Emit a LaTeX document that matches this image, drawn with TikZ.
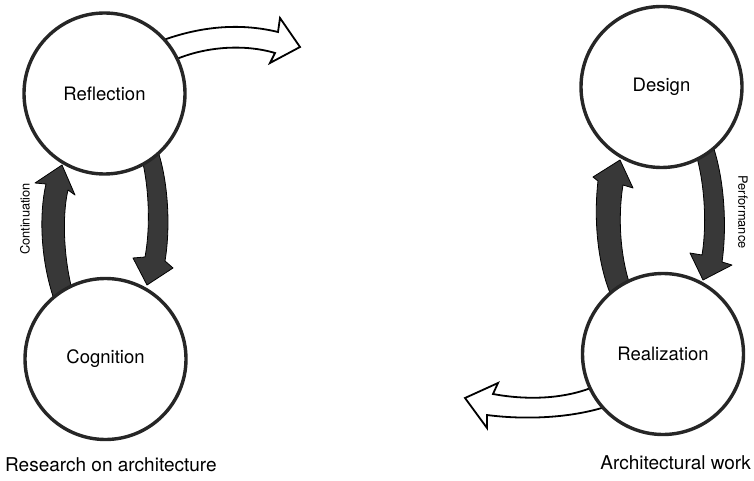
\documentclass[tikz,border=0pt]{standalone}
\usepackage{fontspec}
\setmainfont{TeX Gyre Heros}
\begin{document}
\begin{tikzpicture}[x=1pt,y=-1pt,
  stage/.style={circle,draw=black!85,line width=3.4pt,fill=white,minimum size=161pt,inner sep=0pt,font=\fontsize{18.5}{20}\selectfont},
  darkarrow/.style={fill=black!78,draw=black,line width=0.8pt,line join=round},
  openarrow/.style={fill=white,draw=black,line width=1.8pt,line join=miter},
  sidelabel/.style={font=\fontsize{12.8}{14}\selectfont,inner sep=0pt},
  footlabel/.style={font=\fontsize{19}{22}\selectfont,inner sep=0pt}]
\useasboundingbox (0,0) rectangle (754,481);
% dark loop arrows, left pair
\path[darkarrow] (56,305) .. controls (40,262) and (39,214) .. (46,184) -- (35,183) -- (62,165) -- (75,195) -- (68,190)
  .. controls (62,215) and (63,262) .. (75,300) -- cycle;
\path[darkarrow] (139,148) .. controls (149,180) and (151,225) .. (145,257) -- (133,258) -- (147,285) -- (173,268) -- (165,261)
  .. controls (171,225) and (168,175) .. (155,143) -- cycle;
% dark loop arrows, right pair
\path[darkarrow] (614,302) .. controls (596,265) and (594,215) .. (598,181) -- (593,177) -- (620,160) -- (633,188) -- (623,185)
  .. controls (618,215) and (619,260) .. (634,296) -- cycle;
\path[darkarrow] (694,148) .. controls (705,180) and (707,225) .. (702,255) -- (690,253) -- (703,280) -- (732,265) -- (722,262)
  .. controls (727,228) and (725,175) .. (710,138) -- cycle;
% open arrows
\path[openarrow] (158,42) .. controls (205,24) and (245,24) .. (278,32) -- (280,18) -- (300,47) -- (270,63) -- (275,53)
  .. controls (245,44) and (205,46) .. (172,61);
\path[openarrow] (598,385) .. controls (565,400) and (525,400) .. (493,394) -- (498,383) -- (465,398) -- (487,428) -- (487,415)
  .. controls (525,420) and (570,418) .. (605,407);
% stages
\node[stage] (refl) at (104.5,93.5) {Reflection};
\node[stage] (cogn) at (105.5,359) {Cognition};
\node[stage] (design) at (661.5,87) {Design};
\node[stage] (real) at (663,354) {Realization};
% labels
\node[sidelabel,rotate=90] (cont) at (25,219) {Continuation};
\node[sidelabel,rotate=-90] (perf) at (743,212) {Performance};
\node[footlabel,anchor=west] (research) at (5,465) {Research on architecture};
\node[footlabel,anchor=east] (work) at (751,463) {Architectural work};
\end{tikzpicture}
\end{document}
